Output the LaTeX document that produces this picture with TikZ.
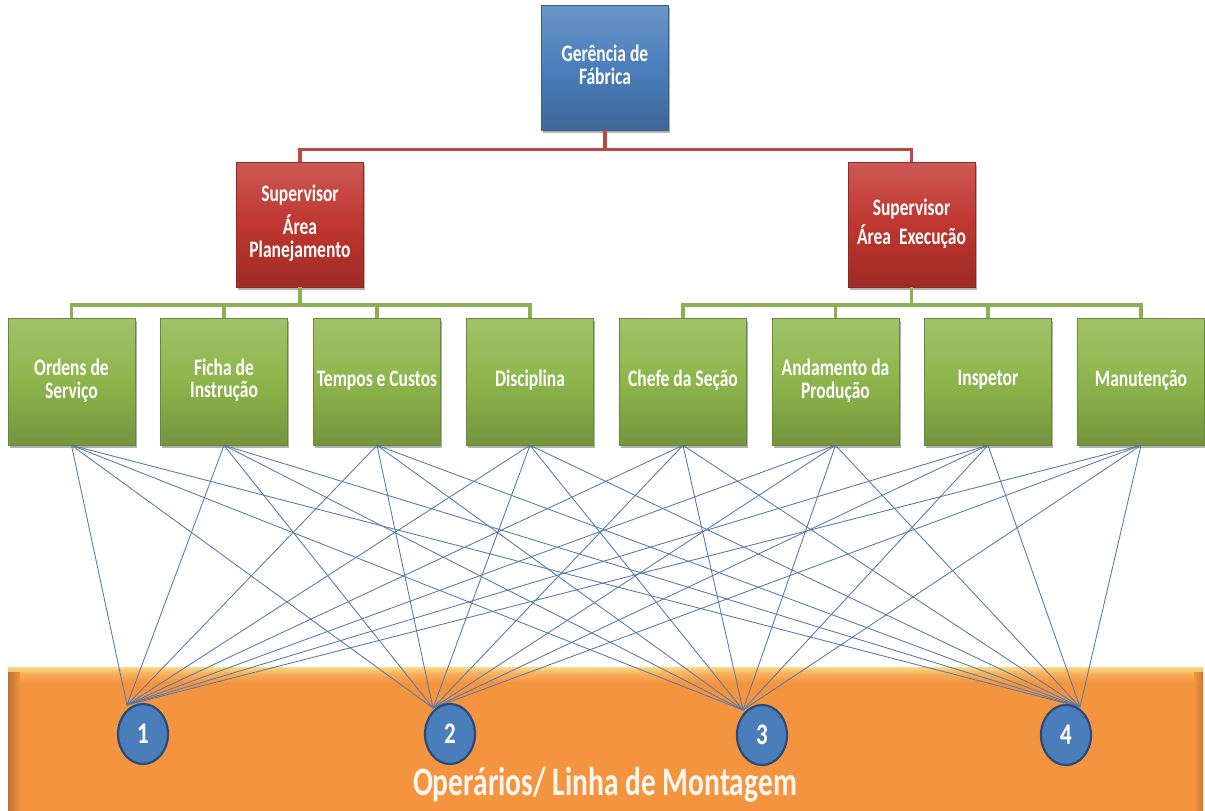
\documentclass[tikz,border=0pt]{standalone}
\usepackage{fontspec}
\setmainfont{Carlito}
\usepackage{graphicx}
\usetikzlibrary{shadows,shapes.geometric}
\definecolor{cblue}{HTML}{4A7EBB}
\definecolor{cred}{HTML}{C0352F}
\definecolor{cgreen}{HTML}{8DB54B}
\definecolor{corange}{HTML}{F5943F}
\definecolor{cyel}{HTML}{FADA86}
\definecolor{cwire}{HTML}{5479AB}
\definecolor{cnavy}{HTML}{2A4A78}
\definecolor{credbus}{HTML}{BE4743}
\definecolor{cgreenbus}{HTML}{8DB055}
\colorlet{cormid}{corange!60!cyel}
\pgfdeclareverticalshading{barshade}{100bp}{color(0bp)=(corange); color(70bp)=(corange); color(73bp)=(cormid); color(75bp)=(cyel); color(100bp)=(cyel)}
\newcommand\stt[1]{\scalebox{1}[1.35]{\begin{tabular}{@{}c@{}}#1\end{tabular}}}
\tikzset{
  card/.style={minimum width=127pt, minimum height=125pt, inner sep=0pt, text=white,
    font=\fontsize{17.5}{16}\selectfont\bfseries,
    drop shadow={opacity=0.3, shadow xshift=1.5pt, shadow yshift=-2.5pt, fill=black}},
  bluecard/.style={card, draw=cblue!75!black, line width=0.6pt, top color=cblue!82!white, bottom color=cblue!82!black, middle color=cblue},
  redcard/.style={card, draw=cred!75!black, line width=0.6pt, top color=cred!82!white, bottom color=cred!82!black, middle color=cred},
  greencard/.style={card, minimum height=127pt, draw=cgreen!75!black, line width=0.6pt, top color=cgreen!82!white, bottom color=cgreen!82!black, middle color=cgreen},
  redbus/.style={draw=credbus, line width=3.5pt},
  greenbus/.style={draw=cgreenbus, line width=3.8pt},
  wire/.style={draw=cwire, line width=0.85pt},
  num/.style={ellipse, minimum width=50pt, minimum height=60pt, inner sep=0pt, fill=cblue, draw=cnavy, line width=2.2pt, text=white, font=\fontsize{23}{23}\selectfont\bfseries},
  bar/.style={minimum width=1195pt, minimum height=160pt, inner sep=0pt, shade, shading=barshade},
  bevel/.style={minimum height=160pt, inner sep=0pt}
}
\begin{document}
\begin{tikzpicture}[x=1pt,y=-1pt]
\useasboundingbox (0,0) rectangle (1205,811);
\clip (0,0) rectangle (1205,811);
\fill[white] (0,0) rectangle (1205,811);

% bottom bar
\node[bar] (bar) at (605.5,747) {};
\node[bevel, minimum width=12pt, left color=corange!78!black, right color=corange] (barL) at (14,752) {};
\node[bevel, minimum width=9pt, left color=corange, right color=corange!82!black] (barR) at (1198.5,752) {};

% boxes
\node[bluecard] (top) at (605,67.5) {\stt{Gerência de\\Fábrica}};
\node[redcard] (supL) at (300,224.5) {\stt{Supervisor\\[4.5pt]Área\\Planejamento}};
\node[redcard] (supR) at (911.5,224.5) {\stt{Supervisor\\[2pt]Área\ \ Execução}};

\node[greencard] (g1) at (71.5,381.5) {\stt{Ordens de\\Serviço}};
\node[greencard] (g2) at (224,381.5) {\stt{Ficha de\\Instrução}};
\node[greencard] (g3) at (377,381.5) {\stt{Tempos e Custos}};
\node[greencard] (g4) at (530,381.5) {\stt{Disciplina}};
\node[greencard] (g5) at (683,381.5) {\stt{Chefe da Seção}};
\node[greencard] (g6) at (835.5,381.5) {\stt{Andamento da\\Produção}};
\node[greencard] (g7) at (988,381.5) {\stt{Inspetor}};
\node[greencard] (g8) at (1141,381.5) {\stt{Manutenção}};

% buses
\draw[redbus] (top.south) -- ++(0,19) -| (supL.north);
\draw[redbus] (top.south) -- ++(0,19) -| (supR.north);
\foreach \g in {g1,g2,g3,g4}{\draw[greenbus] (supL.south) -- ++(0,18) -| (\g.north);}
\foreach \g in {g5,g6,g7,g8}{\draw[greenbus] (supR.south) -- ++(0,18) -| (\g.north);}

% wires
\coordinate (c1) at (127,705);
\coordinate (c2) at (433,708);
\coordinate (c3) at (743,710);
\coordinate (c4) at (1080,707);
\foreach \i in {1,...,8}{\foreach \j in {1,...,4}{\draw[wire] (g\i.south) -- (c\j);}}

% numbered circles
\node[num] (n1) at (143,734) {\scalebox{1}[1.3]{1}};
\node[num] (n2) at (450,734) {\scalebox{1}[1.3]{2}};
\node[num] (n3) at (762,735) {\scalebox{1}[1.3]{3}};
\node[num] (n4) at (1066,735) {\scalebox{1}[1.3]{4}};

\node[text=white!94!orange, font=\fontsize{29.5}{30}\selectfont\bfseries] (lbl) at (605,785) {\scalebox{1}[1.37]{Operários/ Linha de Montagem}};
\end{tikzpicture}
\end{document}
